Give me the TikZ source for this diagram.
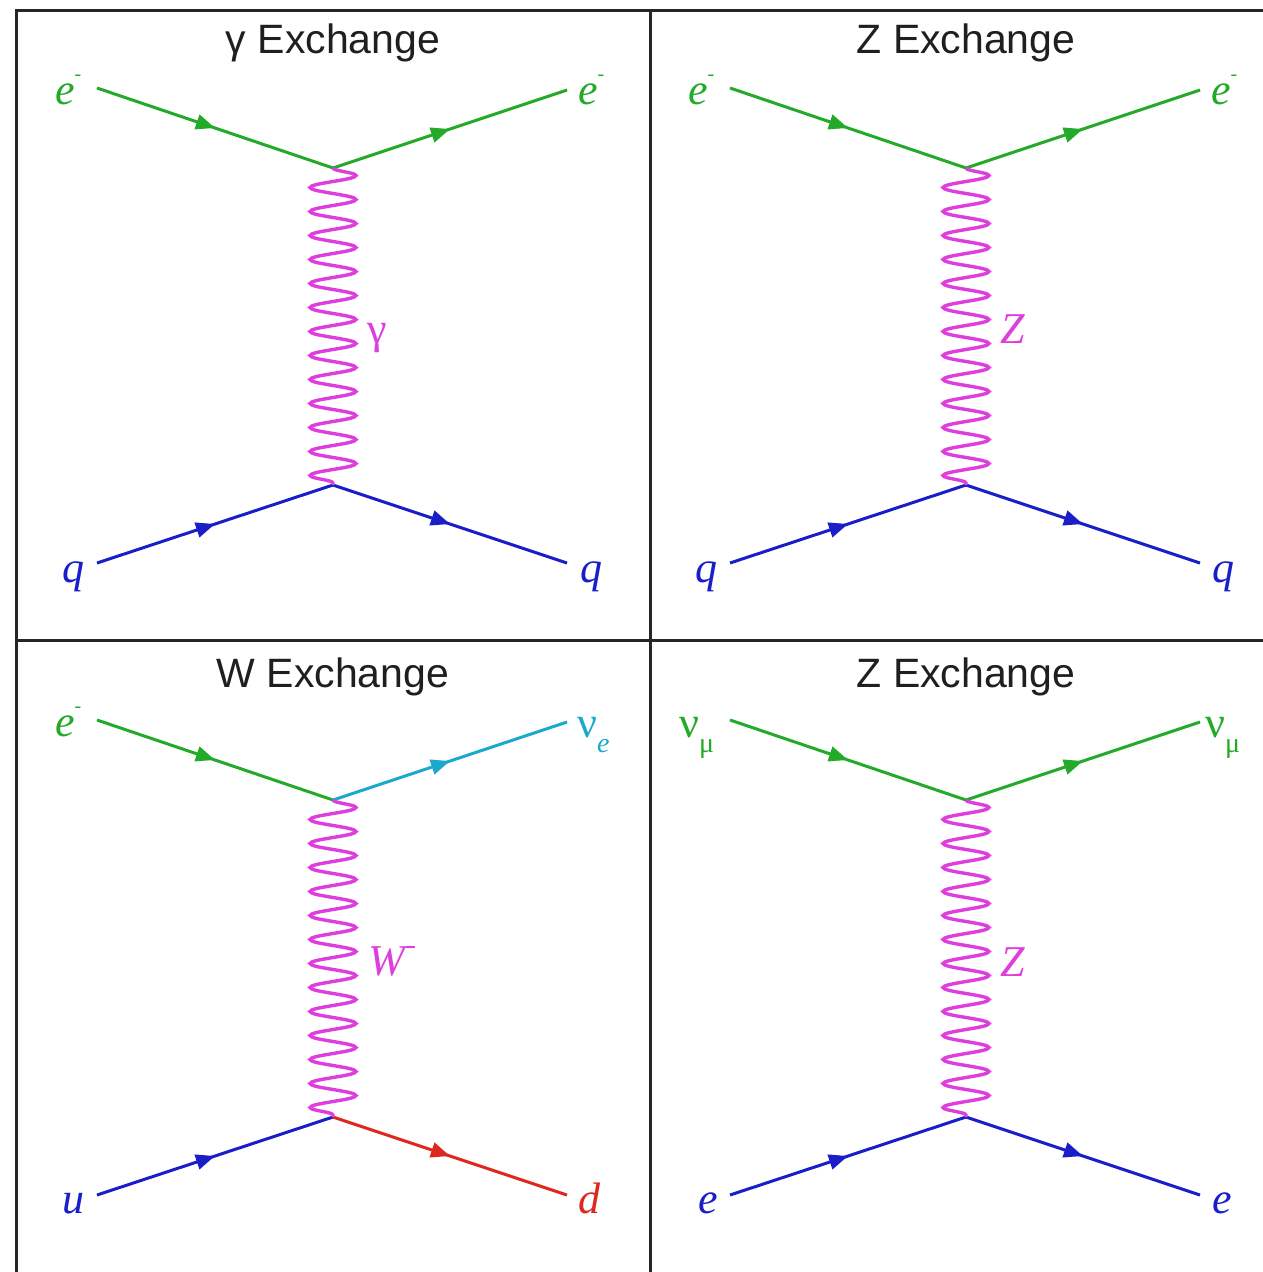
\documentclass[tikz,border=0pt]{standalone}
\usepackage{fontspec}
\setmainfont{Liberation Serif}
\setsansfont{Liberation Sans}
\usetikzlibrary{arrows.meta,decorations.markings,decorations.pathmorphing}
\definecolor{fgreen}{RGB}{35,170,40}
\definecolor{fblue}{RGB}{25,30,200}
\definecolor{fmag}{RGB}{222,62,222}
\definecolor{fcyan}{RGB}{25,170,205}
\definecolor{fred}{RGB}{220,40,30}
\tikzset{
  fermion/.style={line width=3pt, postaction={decorate},
    decoration={markings, mark=at position 0.5 with {\arrow{Triangle[length=19pt,width=15pt]}}}},
  boson/.style={draw=fmag, line width=3.4pt, decorate,
    decoration={snake, segment length=24pt, amplitude=23pt}},
  ttl/.style={font=\sffamily\fontsize{41}{41}\selectfont, text=black!88, inner sep=0pt},
  lab/.style={font=\fontsize{44}{44}\selectfont\itshape, inner sep=0pt, anchor=base west},
  blab/.style={font=\fontsize{44}{44}\selectfont\itshape, inner sep=0pt},
  frameline/.style={line width=3pt, draw=black!85},
}
\newcommand{\supmin}{\raisebox{24pt}{\upshape\fontsize{20}{20}\selectfont -}}
\newcommand{\emin}{e\supmin}
\newcommand{\lowsub}[1]{\raisebox{-15pt}{\fontsize{28}{28}\selectfont #1}}
\begin{document}
\begin{tikzpicture}[x=1pt,y=-1pt]
\useasboundingbox (0,0) rectangle (1263,1272);
\fill[white] (0,0) rectangle (1263,1272);
% frame
\coordinate (ftl) at (16,10);
\coordinate (ftr) at (1265,10);
\coordinate (fbl) at (16,1274);
\coordinate (fmt) at (650,10);
\coordinate (fmb) at (650,1274);
\coordinate (fml) at (16,640);
\coordinate (fmr) at (1265,640);
\draw[frameline] (fbl) -- (ftl) -- (ftr);
\draw[frameline] (fmt) -- (fmb);
\draw[frameline] (fml) -- (fmr);

% ---------- panel 1: gamma exchange ----------
\node[ttl] (t1) at (333,43) {γ Exchange};
\coordinate (a1) at (97,88);
\coordinate (v1) at (333,168);
\coordinate (b1) at (567,90);
\coordinate (c1) at (97,563);
\coordinate (w1) at (333,485);
\coordinate (d1) at (567,563);
\draw[fermion, fgreen] (a1) -- (v1);
\draw[fermion, fgreen] (v1) -- (b1);
\draw[fermion, fblue] (c1) -- (w1);
\draw[fermion, fblue] (w1) -- (d1);
\draw[boson] (v1) -- (w1);
\node[lab, text=fgreen] (la1) at (55,104) {\emin};
\node[lab, text=fgreen] (lb1) at (578,104) {\emin};
\node[lab, text=fblue] (lc1) at (62,582) {q};
\node[lab, text=fblue] (ld1) at (580,582) {q};
\node[blab, text=fmag, font=\fontsize{44}{44}\selectfont\upshape] (lg1) at (377,338) {γ};

% ---------- panel 2: Z exchange ----------
\node[ttl] (t2) at (966,43) {Z Exchange};
\coordinate (a2) at (730,88);
\coordinate (v2) at (966,168);
\coordinate (b2) at (1200,90);
\coordinate (c2) at (730,563);
\coordinate (w2) at (966,485);
\coordinate (d2) at (1200,563);
\draw[fermion, fgreen] (a2) -- (v2);
\draw[fermion, fgreen] (v2) -- (b2);
\draw[fermion, fblue] (c2) -- (w2);
\draw[fermion, fblue] (w2) -- (d2);
\draw[boson] (v2) -- (w2);
\node[lab, text=fgreen] (la2) at (688,104) {\emin};
\node[lab, text=fgreen] (lb2) at (1211,104) {\emin};
\node[lab, text=fblue] (lc2) at (695,582) {q};
\node[lab, text=fblue] (ld2) at (1212,582) {q};
\node[blab, text=fmag] (lg2) at (1013,329) {Z};

% ---------- panel 3: W exchange ----------
\node[ttl] (t3) at (333,677) {W Exchange};
\coordinate (a3) at (97,720);
\coordinate (v3) at (333,800);
\coordinate (b3) at (567,722);
\coordinate (c3) at (97,1195);
\coordinate (w3) at (333,1117);
\coordinate (d3) at (567,1195);
\draw[fermion, fgreen] (a3) -- (v3);
\draw[fermion, fcyan] (v3) -- (b3);
\draw[fermion, fblue] (c3) -- (w3);
\draw[fermion, fred] (w3) -- (d3);
\draw[boson] (v3) -- (w3);
\node[lab, text=fgreen] (la3) at (55,736) {\emin};
\node[lab, text=fcyan] (lb3) at (577,737) {\upshape ν\lowsub{\itshape e}};
\node[lab, text=fblue] (lc3) at (62,1213) {u};
\node[lab, text=fred] (ld3) at (578,1213) {d};
\node[lab, text=fmag] (lg3) at (368,975) {W\hspace{1pt}\raisebox{27pt}{\rule{9pt}{1.6pt}}};

% ---------- panel 4: Z exchange (neutrino) ----------
\node[ttl] (t4) at (966,677) {Z Exchange};
\coordinate (a4) at (730,720);
\coordinate (v4) at (966,800);
\coordinate (b4) at (1200,722);
\coordinate (c4) at (730,1195);
\coordinate (w4) at (966,1117);
\coordinate (d4) at (1200,1195);
\draw[fermion, fgreen] (a4) -- (v4);
\draw[fermion, fgreen] (v4) -- (b4);
\draw[fermion, fblue] (c4) -- (w4);
\draw[fermion, fblue] (w4) -- (d4);
\draw[boson] (v4) -- (w4);
\node[lab, text=fgreen] (la4) at (679,737) {\upshape ν\lowsub{μ}};
\node[lab, text=fgreen] (lb4) at (1205,737) {\upshape ν\lowsub{μ}};
\node[lab, text=fblue] (lc4) at (698,1213) {e};
\node[lab, text=fblue] (ld4) at (1212,1213) {e};
\node[blab, text=fmag] (lg4) at (1013,962) {Z};
\end{tikzpicture}
\end{document}
